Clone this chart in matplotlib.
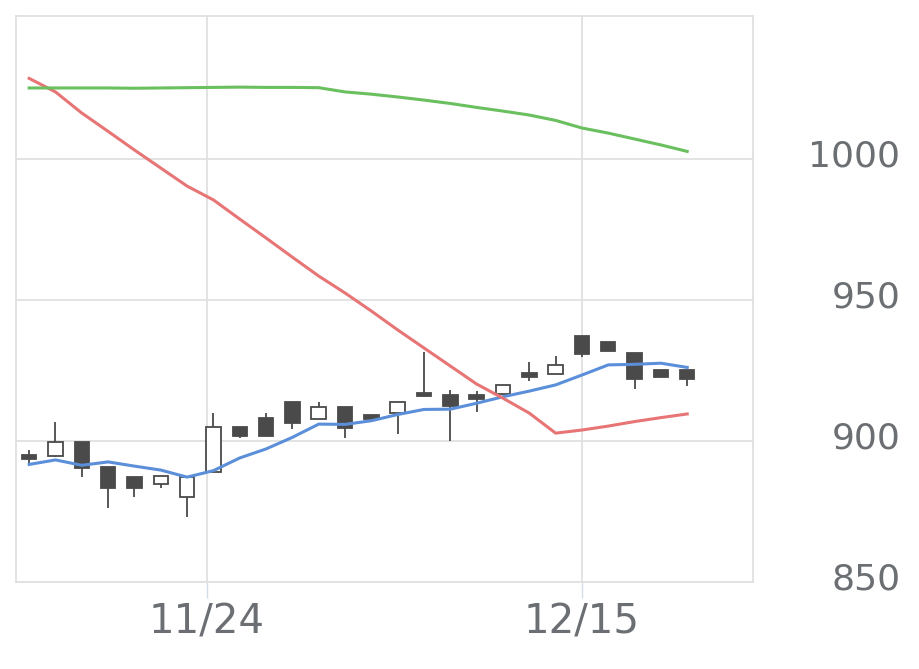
import matplotlib.pyplot as plt
import matplotlib.transforms as mtransforms

# daily OHLC, 11/13 .. 12/19
opens  = [895.0, 894.7, 899.8, 890.9, 887.2, 884.6, 880.0, 889.0, 905.1, 908.0,
          913.9, 907.8, 912.2, 909.2, 909.8, 916.9, 916.3, 916.3, 916.7, 924.0,
          923.8, 937.2, 935.2, 931.1, 925.2, 925.2]
highs  = [896.8, 906.9, 899.8, 890.9, 887.2, 887.7, 887.3, 909.8, 905.1, 909.8,
          913.9, 913.9, 912.2, 909.2, 913.8, 931.6, 918.1, 917.7, 919.9, 928.1,
          930.1, 937.2, 935.2, 931.1, 925.2, 925.2]
lows   = [892.3, 894.3, 887.3, 876.1, 880.3, 883.2, 873.2, 889.0, 901.0, 901.8,
          904.1, 907.8, 901.2, 907.7, 902.4, 915.6, 900.0, 910.2, 916.7, 921.3,
          923.8, 929.7, 932.0, 918.4, 922.6, 919.5]
closes = [893.6, 899.8, 890.5, 883.4, 883.4, 887.7, 887.3, 904.9, 901.8, 901.8,
          906.5, 912.2, 904.7, 907.7, 913.8, 916.0, 912.5, 914.9, 919.9, 922.6,
          926.9, 930.9, 932.0, 922.0, 922.6, 921.9]

ma_short = [891.7, 893.3, 891.4, 892.6, 891.1, 889.7, 887.2, 889.5, 894.0, 897.2,
            901.3, 906.0, 905.9, 907.2, 909.4, 911.2, 911.3, 913.4, 915.7, 917.7,
            919.9, 923.4, 927.0, 927.2, 927.6, 926.1]
ma_mid = [1028.6, 1023.8, 1016.3, 1009.8, 1003.2, 996.8, 990.4, 985.5, 978.7, 972.0,
          965.2, 958.5, 952.5, 946.1, 939.4, 933.0, 926.6, 920.2, 915.2, 909.9,
          902.8, 903.9, 905.3, 906.9, 908.3, 909.6]
ma_long = [1025.2, 1025.2, 1025.2, 1025.2, 1025.1, 1025.2, 1025.3, 1025.4, 1025.5, 1025.4,
           1025.4, 1025.3, 1023.8, 1023.0, 1022.0, 1020.9, 1019.7, 1018.3, 1017.0, 1015.6,
           1013.7, 1011.0, 1009.2, 1007.1, 1005.0, 1002.7]

tick_labels = ["11/24", "12/15"]
tick_pos = [6.75, 21]
yticks = [850, 900, 950, 1000]

grid_color = "#e0e0e0"
text_color = "#6b6e72"

fig = plt.figure(figsize=(9.2, 6.69), dpi=100)
ax = fig.add_axes([0.0174, 0.130, 0.8011, 0.846])

x = list(range(len(opens)))
for i in x:
    o, h, l, c = opens[i], highs[i], lows[i], closes[i]
    up = c >= o
    ax.vlines(i, l, h, color="#4a4a4a", linewidth=1.3, zorder=2)
    ax.bar(i, max(abs(c - o), 0.4), bottom=min(o, c), width=0.55,
           color="white" if up else "#4a4a4a", edgecolor="#4a4a4a",
           linewidth=1.3, zorder=3)

ax.plot(x, ma_short, color="#5b8fd9", linewidth=2.2, zorder=4)
ax.plot(x, ma_mid, color="#e87575", linewidth=2.2, zorder=4)
ax.plot(x, ma_long, color="#6abf5e", linewidth=2.2, zorder=4)

ax.set_xlim(-0.5, 27.5)
ax.set_ylim(850, 1050.7)

ax.set_yticks(yticks)
ax.set_xticks(tick_pos, tick_labels)
ax.grid(True, color=grid_color, linewidth=1.3, zorder=0)
ax.set_axisbelow(True)
for s in ax.spines.values():
    s.set_color(grid_color)
    s.set_linewidth(1.3)

ax.yaxis.tick_right()
ax.tick_params(axis="y", length=0, pad=106, labelsize=26, labelcolor=text_color)
shift_up = mtransforms.ScaledTranslation(0, 4 / 72, fig.dpi_scale_trans)
for lbl in ax.get_yticklabels():
    lbl.set_horizontalalignment("right")
    lbl.set_transform(lbl.get_transform() + shift_up)
ax.tick_params(axis="x", length=11.5, width=1, color="#d3dcea", pad=3,
               labelsize=29, labelcolor=text_color)

fig.savefig("out.png", dpi=100)
